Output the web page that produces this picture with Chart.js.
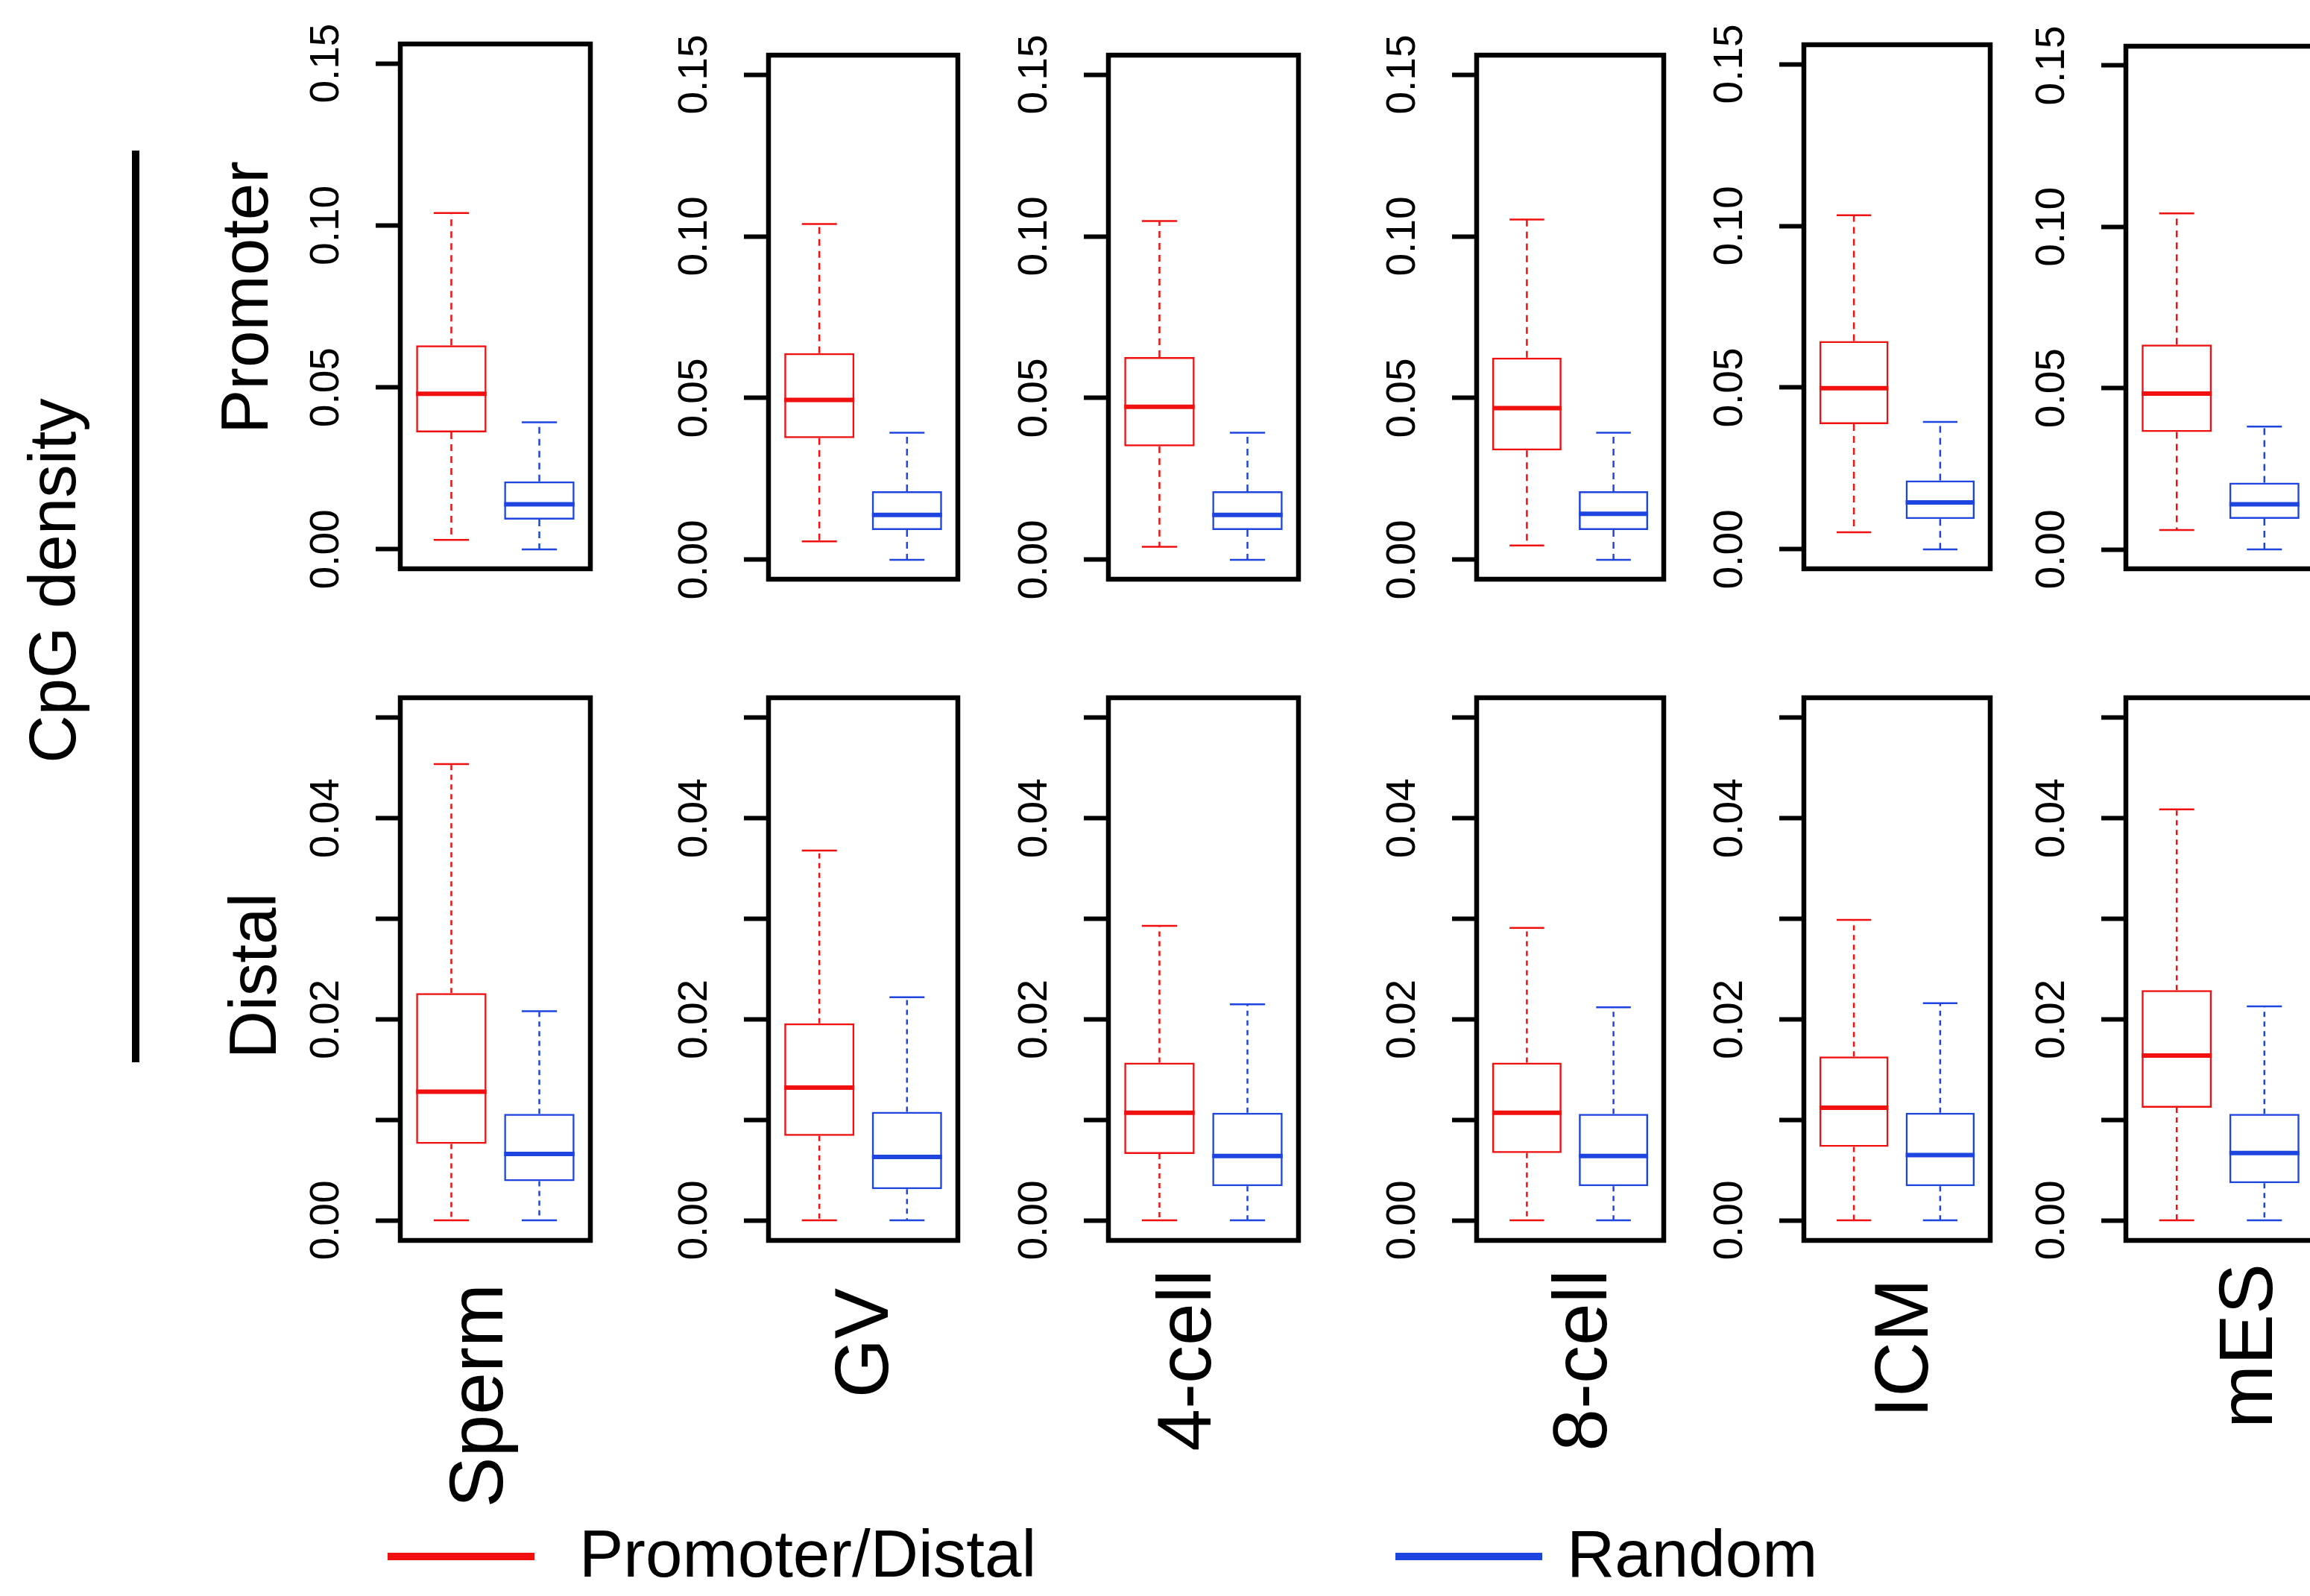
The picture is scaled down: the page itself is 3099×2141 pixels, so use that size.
<!DOCTYPE html>
<html>
<head>
<meta charset="utf-8">
<script src="https://cdn.jsdelivr.net/npm/chart.js@4.4.1/dist/chart.umd.min.js"></script>
<style>
  html, body { margin: 0; padding: 0; background: #fff; }
  #fig { position: relative; width: 3099px; height: 2141px; overflow: hidden;
         font-family: 'Liberation Sans', Arial, sans-serif; color: #000; background: #fff; }
  canvas { position: absolute; }
  .rot, .lbl { position: absolute; width: 0; height: 0; }
  .rot { transform-origin: 0 0; transform: rotate(-90deg); }
  .rot span, .lbl span { position: absolute; left: 0; top: 0; white-space: nowrap; line-height: 1; }
  .key { position: absolute; height: 10px; }
</style>
</head>
<body>
<div id="fig"></div>
<script>
// stages along the bottom
const stages = ['Sperm', 'GV', '4-cell', '8-cell', 'ICM', 'mES'];
const groups = ['Promoter/Distal', 'Random'];

// five number summaries per stage: [min, q1, median, q3, max]
const promoterSites = [
  [0.0029, 0.0361, 0.0480, 0.0630, 0.1038],
  [0.0057, 0.0376, 0.0494, 0.0639, 0.1038],
  [0.0040, 0.0351, 0.0473, 0.0627, 0.1047],
  [0.0044, 0.0338, 0.0469, 0.0625, 0.1052],
  [0.0053, 0.0387, 0.0498, 0.0644, 0.1033],
  [0.0060, 0.0364, 0.0483, 0.0635, 0.1042]
];
const promoterRandom = [
  [0, 0.0092, 0.0139, 0.0210, 0.0392],
  [0, 0.0092, 0.0139, 0.0212, 0.0393],
  [0, 0.0092, 0.0139, 0.0212, 0.0393],
  [0, 0.0092, 0.0142, 0.0212, 0.0393],
  [0, 0.0094, 0.0145, 0.0213, 0.0394],
  [0, 0.0095, 0.0140, 0.0207, 0.0381]
];
const distalSites = [
  [0, 0.0076, 0.0128, 0.0226, 0.0454],
  [0, 0.0084, 0.0132, 0.0196, 0.0368],
  [0, 0.0066, 0.0107, 0.0157, 0.0293],
  [0, 0.0067, 0.0107, 0.0157, 0.0291],
  [0, 0.0073, 0.0112, 0.0163, 0.0299],
  [0, 0.0112, 0.0164, 0.0229, 0.0409]
];
const distalRandom = [
  [0, 0.0039, 0.0066, 0.0106, 0.0208],
  [0, 0.0031, 0.0063, 0.0108, 0.0222],
  [0, 0.0034, 0.0064, 0.0107, 0.0215],
  [0, 0.0034, 0.0064, 0.0106, 0.0212],
  [0, 0.0034, 0.0065, 0.0107, 0.0216],
  [0, 0.0037, 0.0067, 0.0106, 0.0213]
];

// y axis ticks
const promoterTicks = [0, 0.05, 0.10, 0.15];
const promoterTickLabels = ['0.00', '0.05', '0.10', '0.15'];
const distalTicks = [0, 0.01, 0.02, 0.03, 0.04, 0.05];
const distalTickLabels = ['0.00', '', '0.02', '', '0.04', ''];

// styling / layout
const groupColors = ['#f01010', '#1f45e0'];
const groupPos = [1, 2];
const boxWidth = 0.8;
const fontFamily = "'Liberation Sans', Arial, sans-serif";
const panelLeft = [537, 1031, 1487, 1981, 2420, 2852];
const panelWidth = [255, 254, 255, 251, 250, 254];

const rows = [
  { sites: promoterSites, random: promoterRandom, ticks: promoterTicks, tickLabels: promoterTickLabels,
    yMin: -0.006, yMax: 0.156, top: [59, 74, 74, 74, 60, 62], bottom: [763, 777, 777, 777, 763, 763], dash: [9, 7] },
  { sites: distalSites, random: distalRandom, ticks: distalTicks, tickLabels: distalTickLabels,
    yMin: -0.002, yMax: 0.052, top: [936, 936, 936, 936, 936, 936], bottom: [1664, 1664, 1664, 1664, 1664, 1664], dash: [7, 6] }
];

const fig = document.getElementById('fig');

const framePlugin = {
  id: 'frame',
  afterDraw(chart) {
    const { ctx, chartArea: a } = chart;
    ctx.save();
    ctx.strokeStyle = '#000';
    ctx.lineWidth = 6.5;
    ctx.strokeRect(a.left, a.top, a.right - a.left, a.bottom - a.top);
    ctx.restore();
  }
};

// whiskers, staples and median on top of the floating bars
function makeBoxPlugin(stats, dash) {
  return {
    id: 'whiskers',
    afterDatasetsDraw(chart) {
      const { ctx, scales: { x, y } } = chart;
      const seg = (x1, y1, x2, y2) => { ctx.beginPath(); ctx.moveTo(x1, y1); ctx.lineTo(x2, y2); ctx.stroke(); };
      ctx.save();
      stats.forEach((s, i) => {
        const px = x.getPixelForValue(groupPos[i]);
        const half = x.getPixelForValue(groupPos[i] + boxWidth / 2) - px;
        const py = s.map(v => y.getPixelForValue(v));
        ctx.strokeStyle = groupColors[i];
        ctx.lineWidth = 2.5;
        ctx.setLineDash(dash);
        seg(px, py[3], px, py[4]);
        seg(px, py[1], px, py[0]);
        ctx.setLineDash([]);
        ctx.lineWidth = 2.5;
        seg(px - half / 2, py[4], px + half / 2, py[4]);
        seg(px - half / 2, py[0], px + half / 2, py[0]);
        ctx.lineWidth = 6;
        seg(px - half, py[2], px + half, py[2]);
      });
      ctx.restore();
    }
  };
}

function makePanel(si, ri) {
  const row = rows[ri];
  const top = row.top[si];
  const w = panelWidth[si], h = row.bottom[si] - top;
  const axisW = 160, padV = 80, padR = 20;
  const canvas = document.createElement('canvas');
  canvas.width = axisW + w + padR;
  canvas.height = h + 2 * padV;
  canvas.style.left = (panelLeft[si] - axisW) + 'px';
  canvas.style.top = (top - padV) + 'px';
  fig.appendChild(canvas);

  const stats = [row.sites[si], row.random[si]];
  new Chart(canvas, {
    type: 'bar',
    data: {
      datasets: [{
        data: stats.map((s, i) => ({ x: groupPos[i], y: [s[1], s[3]] })),
        backgroundColor: 'rgba(255,255,255,0)',
        borderColor: groupColors,
        borderWidth: 2.5,
        borderSkipped: false,
        categoryPercentage: 1,
        barPercentage: boxWidth
      }]
    },
    options: {
      responsive: false,
      animation: false,
      devicePixelRatio: 1,
      layout: { padding: { left: 0, right: padR, top: padV, bottom: padV } },
      plugins: { legend: { display: false }, tooltip: { enabled: false } },
      scales: {
        x: {
          type: 'linear', display: false, offset: false, min: 0.42, max: 2.58,
          afterBuildTicks: s => { s.ticks = groupPos.map(v => ({ value: v })); }
        },
        y: {
          min: row.yMin,
          max: row.yMax,
          afterFit: s => { s.width = axisW; },
          afterBuildTicks: s => { s.ticks = row.ticks.map(v => ({ value: v })); },
          border: { display: false },
          grid: { drawOnChartArea: false, drawTicks: true, tickLength: 33, tickWidth: 6, tickColor: '#000' },
          ticks: {
            autoSkip: false,
            minRotation: 90,
            maxRotation: 90,
            crossAlign: 'center',
            padding: 12,
            color: '#000',
            font: { family: fontFamily, size: 55 },
            callback: v => row.tickLabels[row.ticks.findIndex(t => Math.abs(t - v) < 1e-9)]
          }
        }
      }
    },
    plugins: [framePlugin, makeBoxPlugin(stats, row.dash)]
  });
}

function addText(txt, x, y, size, anchor, rotated) {
  const wrap = document.createElement('div');
  wrap.className = rotated ? 'rot' : 'lbl';
  wrap.style.left = x + 'px';
  wrap.style.top = y + 'px';
  const span = document.createElement('span');
  span.textContent = txt;
  span.style.fontSize = size + 'px';
  const tx = anchor === 'end' ? '-100%' : anchor === 'middle' ? '-50%' : '0';
  span.style.transform = 'translate(' + tx + ', -50%)';
  wrap.appendChild(span);
  fig.appendChild(wrap);
}

for (let r = 0; r < rows.length; r++) {
  for (let s = 0; s < stages.length; s++) makePanel(s, r);
}

// side titles
addText('CpG density', 70, 779, 89, 'middle', true);
addText('Promoter', 328, 399, 89, 'middle', true);
addText('Distal', 339, 1309, 89, 'middle', true);
const bar = document.createElement('div');
bar.style.cssText = 'position:absolute;left:177px;top:202px;width:10px;height:1223px;background:#000;';
fig.appendChild(bar);

// stage labels under the bottom row
const stageX = [639, 1156, 1589, 2120, 2551, 3013];
const stageTop = [1722, 1728, 1703, 1703, 1715, 1695];
stages.forEach((st, i) => addText(st, stageX[i], stageTop[i], 102, 'end', true));

// legend
const keyX = [520, 1872];
const keyTextX = [777, 2102];
groups.forEach((g, i) => {
  const k = document.createElement('div');
  k.className = 'key';
  k.style.left = keyX[i] + 'px';
  k.style.top = '2083px';
  k.style.width = '197px';
  k.style.background = groupColors[i];
  fig.appendChild(k);
  addText(g, keyTextX[i], 2084, 89, 'start', false);
});
</script>
</body>
</html>
